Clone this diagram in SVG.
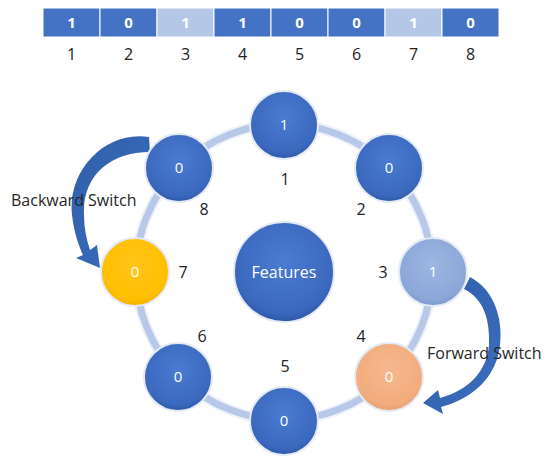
<svg xmlns="http://www.w3.org/2000/svg" width="550" height="465" viewBox="0 0 550 465">
<defs>
<radialGradient id="gBlue" cx="0.5" cy="0.4" r="0.6">
<stop offset="0" stop-color="#4A7CD2"/><stop offset="0.85" stop-color="#3A68BD"/><stop offset="1" stop-color="#2D58A8"/>
</radialGradient>
<radialGradient id="gLight" cx="0.5" cy="0.4" r="0.6">
<stop offset="0" stop-color="#9DB6E2"/><stop offset="0.85" stop-color="#8BA7D8"/><stop offset="1" stop-color="#7A97CC"/>
</radialGradient>
<radialGradient id="gOrange" cx="0.5" cy="0.4" r="0.6">
<stop offset="0" stop-color="#F6B88E"/><stop offset="0.85" stop-color="#F2AC7D"/><stop offset="1" stop-color="#E89C6B"/>
</radialGradient>
<radialGradient id="gGold" cx="0.5" cy="0.4" r="0.6">
<stop offset="0" stop-color="#FFC61A"/><stop offset="0.85" stop-color="#FFBE00"/><stop offset="1" stop-color="#F0B000"/>
</radialGradient>
<linearGradient id="gArrow" x1="0" y1="0" x2="1" y2="1">
<stop offset="0" stop-color="#2F5FA8"/><stop offset="1" stop-color="#3C6EC0"/>
</linearGradient>
</defs>
<style>
.cell{stroke:#ffffff;stroke-width:1}
.dark{fill:#4472C4}
.lite{fill:#B4C7E7}
.bv{font-family:"Open Sans","Liberation Sans",sans-serif;font-size:15px;font-weight:bold;fill:#ffffff;text-anchor:middle}
.idx{font-family:"Open Sans","Liberation Sans",sans-serif;font-size:16px;fill:#222222;text-anchor:middle}
.nv{font-family:"Open Sans","Liberation Sans",sans-serif;font-size:15px;fill:#ffffff;text-anchor:middle}
.lbl{font-family:"Open Sans","Liberation Sans",sans-serif;font-size:16px;fill:#262626}
.node{stroke:#E3EAF6;stroke-width:2}
</style>
<g id="bits">
<rect class="cell dark" x="43" y="8" width="57" height="29"/>
<rect class="cell dark" x="100" y="8" width="57" height="29"/>
<rect class="cell lite" x="157" y="8" width="57" height="29"/>
<rect class="cell dark" x="214" y="8" width="57" height="29"/>
<rect class="cell dark" x="271" y="8" width="57" height="29"/>
<rect class="cell dark" x="328" y="8" width="57" height="29"/>
<rect class="cell lite" x="385" y="8" width="57" height="29"/>
<rect class="cell dark" x="442" y="8" width="57" height="29"/>
<text class="bv" x="71.5" y="28">1</text>
<text class="bv" x="128.5" y="28">0</text>
<text class="bv" x="185.5" y="28">1</text>
<text class="bv" x="242.5" y="28">1</text>
<text class="bv" x="299.5" y="28">0</text>
<text class="bv" x="356.5" y="28">0</text>
<text class="bv" x="413.5" y="28">1</text>
<text class="bv" x="470.5" y="28">0</text>
<text class="idx" x="71.5" y="60">1</text>
<text class="idx" x="128.5" y="60">2</text>
<text class="idx" x="185.5" y="60">3</text>
<text class="idx" x="242.5" y="60">4</text>
<text class="idx" x="299.5" y="60">5</text>
<text class="idx" x="356.5" y="60">6</text>
<text class="idx" x="413.5" y="60">7</text>
<text class="idx" x="470.5" y="60">8</text>
</g>
<g id="connectors">
<circle cx="284" cy="272" r="148" fill="none" stroke="#EEF2FA" stroke-width="11"/>
<circle cx="284" cy="272" r="148" fill="none" stroke="#B8C8E8" stroke-width="7"/>
<path d="M149,137 C106,130 67,170 72,215 C74,233 79,246 83,255 L76,258 L100,268 L97,245 L90,250 C86,238 84,227 84,215 C82,176 110,152 150,152 Z" fill="url(#gArrow)"/>
<path d="M470,277 C495,290 503,320 500,345 C497,375 475,398 441,407 L443,414 L423,403 L438,390 L440,398 C470,390 487,370 489,345 C490,320 484,299 464,289 Z" fill="url(#gArrow)"/>
</g>
<g id="features">
<circle class="node" cx="284" cy="272" r="50" fill="url(#gBlue)"/>
<text class="nv" x="284" y="278" style="font-size:16px">Features</text>
</g>
<g id="n1"><circle class="node" cx="284" cy="125" r="34" fill="url(#gBlue)"/><text class="nv" x="284" y="130">1</text><text class="idx" x="285" y="185">1</text></g>
<g id="n2"><circle class="node" cx="389" cy="168" r="34" fill="url(#gBlue)"/><text class="nv" x="389" y="173">0</text><text class="idx" x="361" y="215">2</text></g>
<g id="n3"><circle class="node" cx="433" cy="272" r="34" fill="url(#gLight)"/><text class="nv" x="433" y="277">1</text><text class="idx" x="383" y="278">3</text></g>
<g id="n4"><circle class="node" cx="389" cy="377" r="34" fill="url(#gOrange)"/><text class="nv" x="389" y="382">0</text><text class="idx" x="361" y="342">4</text></g>
<g id="n5"><circle class="node" cx="284" cy="421" r="34" fill="url(#gBlue)"/><text class="nv" x="284" y="426">0</text><text class="idx" x="285" y="372">5</text></g>
<g id="n6"><circle class="node" cx="178" cy="377" r="34" fill="url(#gBlue)"/><text class="nv" x="178" y="382">0</text><text class="idx" x="202" y="342">6</text></g>
<g id="n7"><circle class="node" cx="135" cy="272" r="34" fill="url(#gGold)"/><text class="nv" x="135" y="277">0</text><text class="idx" x="183" y="278">7</text></g>
<g id="n8"><circle class="node" cx="179" cy="168" r="34" fill="url(#gBlue)"/><text class="nv" x="179" y="173">0</text><text class="idx" x="204" y="215">8</text></g>
<g id="labels">
<text class="lbl" x="11" y="206">Backward Switch</text>
<text class="lbl" x="427" y="359">Forward Switch</text>
</g>
</svg>
